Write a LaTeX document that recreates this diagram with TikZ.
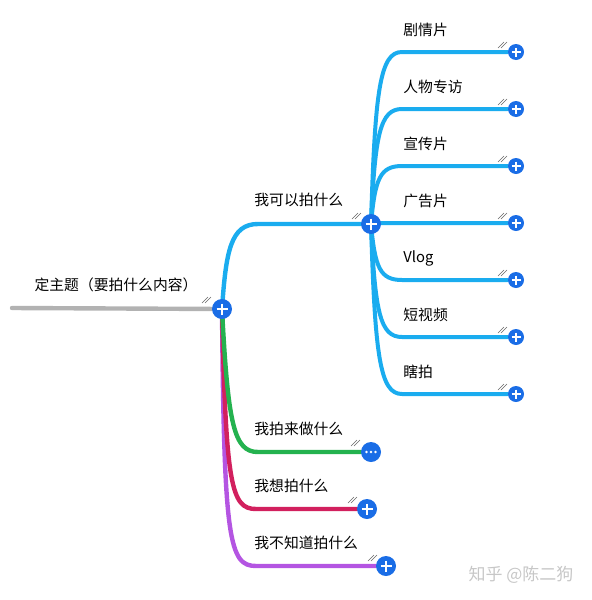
\documentclass[tikz,border=0pt]{standalone}
\usepackage{fontspec}
\setmainfont{Noto Sans CJK SC}
\usetikzlibrary{backgrounds}
\definecolor{skyline}{HTML}{1AACEF}
\definecolor{knob}{HTML}{1A6DE6}
\definecolor{grassline}{HTML}{24B24F}
\definecolor{berryline}{HTML}{D2205E}
\definecolor{violetline}{HTML}{B455E2}
\definecolor{stemgray}{HTML}{B2B2B2}

\tikzset{
  knobbig/.style={circle, fill=knob, minimum size=10pt, inner sep=0pt,
    path picture={\draw[white, line width=1.2pt]
      (path picture bounding box.center) ++(-5.5,0) -- ++(11,0)
      (path picture bounding box.center) ++(0,-5.5) -- ++(0,11);}},
  knobsmall/.style={circle, fill=knob, minimum size=8pt, inner sep=0pt,
    path picture={\draw[white, line width=1pt]
      (path picture bounding box.center) ++(-4.5,0) -- ++(9,0)
      (path picture bounding box.center) ++(0,-4.5) -- ++(0,9);}},
  knobmore/.style={circle, fill=knob, minimum size=10pt, inner sep=0pt,
    path picture={\foreach \d in {-4.5,0,4.5}
      \fill[white] (path picture bounding box.center) ++(\d,0) circle (0.7pt);}},
  topic/.style={anchor=west, inner sep=0pt, font=\fontsize{7.4}{9}\selectfont},
  branch/.style={line width=2.2pt, line cap=round},
  twig/.style={line width=2pt, line cap=round, skyline},
  grip/.pic={\draw[black!60, line width=0.3pt] (-4,3) -- (2,-3) (-1,3) -- (5,-3);}
}

\begin{document}
\begin{tikzpicture}[x=0.5pt, y=-0.5pt]
\useasboundingbox (0,0) rectangle (591,600);

% main topic
\coordinate (start) at (12,308);
\node[knobbig] (root) at (222,309) {};
\node[topic, anchor=center] at (116,285) {定主题（要拍什么内容）};
\path (root) ++(-16,-9) pic {grip};
\begin{scope}[on background layer]
  \draw[branch, stemgray] (start) -- (root);
\end{scope}

% upper branch
\node[knobbig] (hub) at (371,224) {};
\node[topic] at (254,200) {我可以拍什么};
\path (hub) ++(-15,-8) pic {grip};
\begin{scope}[on background layer]
  \draw[branch, skyline] (root.center) .. controls (226,250) and (231,224) .. (258,224) -- (hub);
\end{scope}

\foreach \y/\name [count=\i] in {52/剧情片, 109/人物专访, 166/宣传片, 223/广告片, 280/Vlog, 337/短视频, 394/瞎拍} {
  \node[knobsmall] (c\i) at (516,\y) {};
  \node[topic] at (403,\y-22) {\name};
  \path (c\i) ++(-14,-7) pic {grip};
  \begin{scope}[on background layer]
    \draw[twig] (hub.center) .. controls (375,{224+0.78*(\y-224)}) and (380,\y) .. (402,\y) -- (c\i);
  \end{scope}
}

% lower branches
\node[knobmore] (g) at (371,452) {};
\node[topic] at (254,429) {我拍来做什么};
\path (g) ++(-16,-9) pic {grip};

\node[knobbig] (r) at (367,509) {};
\node[topic] at (254,486) {我想拍什么};
\path (r) ++(-15,-9) pic {grip};

\node[knobbig] (p) at (386,566) {};
\node[topic] at (254,543) {我不知道拍什么};
\path (p) ++(-14,-8) pic {grip};

\begin{scope}[on background layer]
  \draw[branch, violetline] (root.center) .. controls (224,540) and (229,566) .. (256,566) -- (p);
  \draw[branch, berryline] (root.center) .. controls (226,485) and (231,509) .. (256,509) -- (r);
  \draw[branch, grassline] (root.center) .. controls (228,425) and (234,452) .. (258,452) -- (g);
\end{scope}

% watermark
\node[font=\fontsize{8.5}{10}\selectfont, text=black!22, inner sep=0pt] (mark) at (521,575) {知乎 @陈二狗};
\end{tikzpicture}
\end{document}
